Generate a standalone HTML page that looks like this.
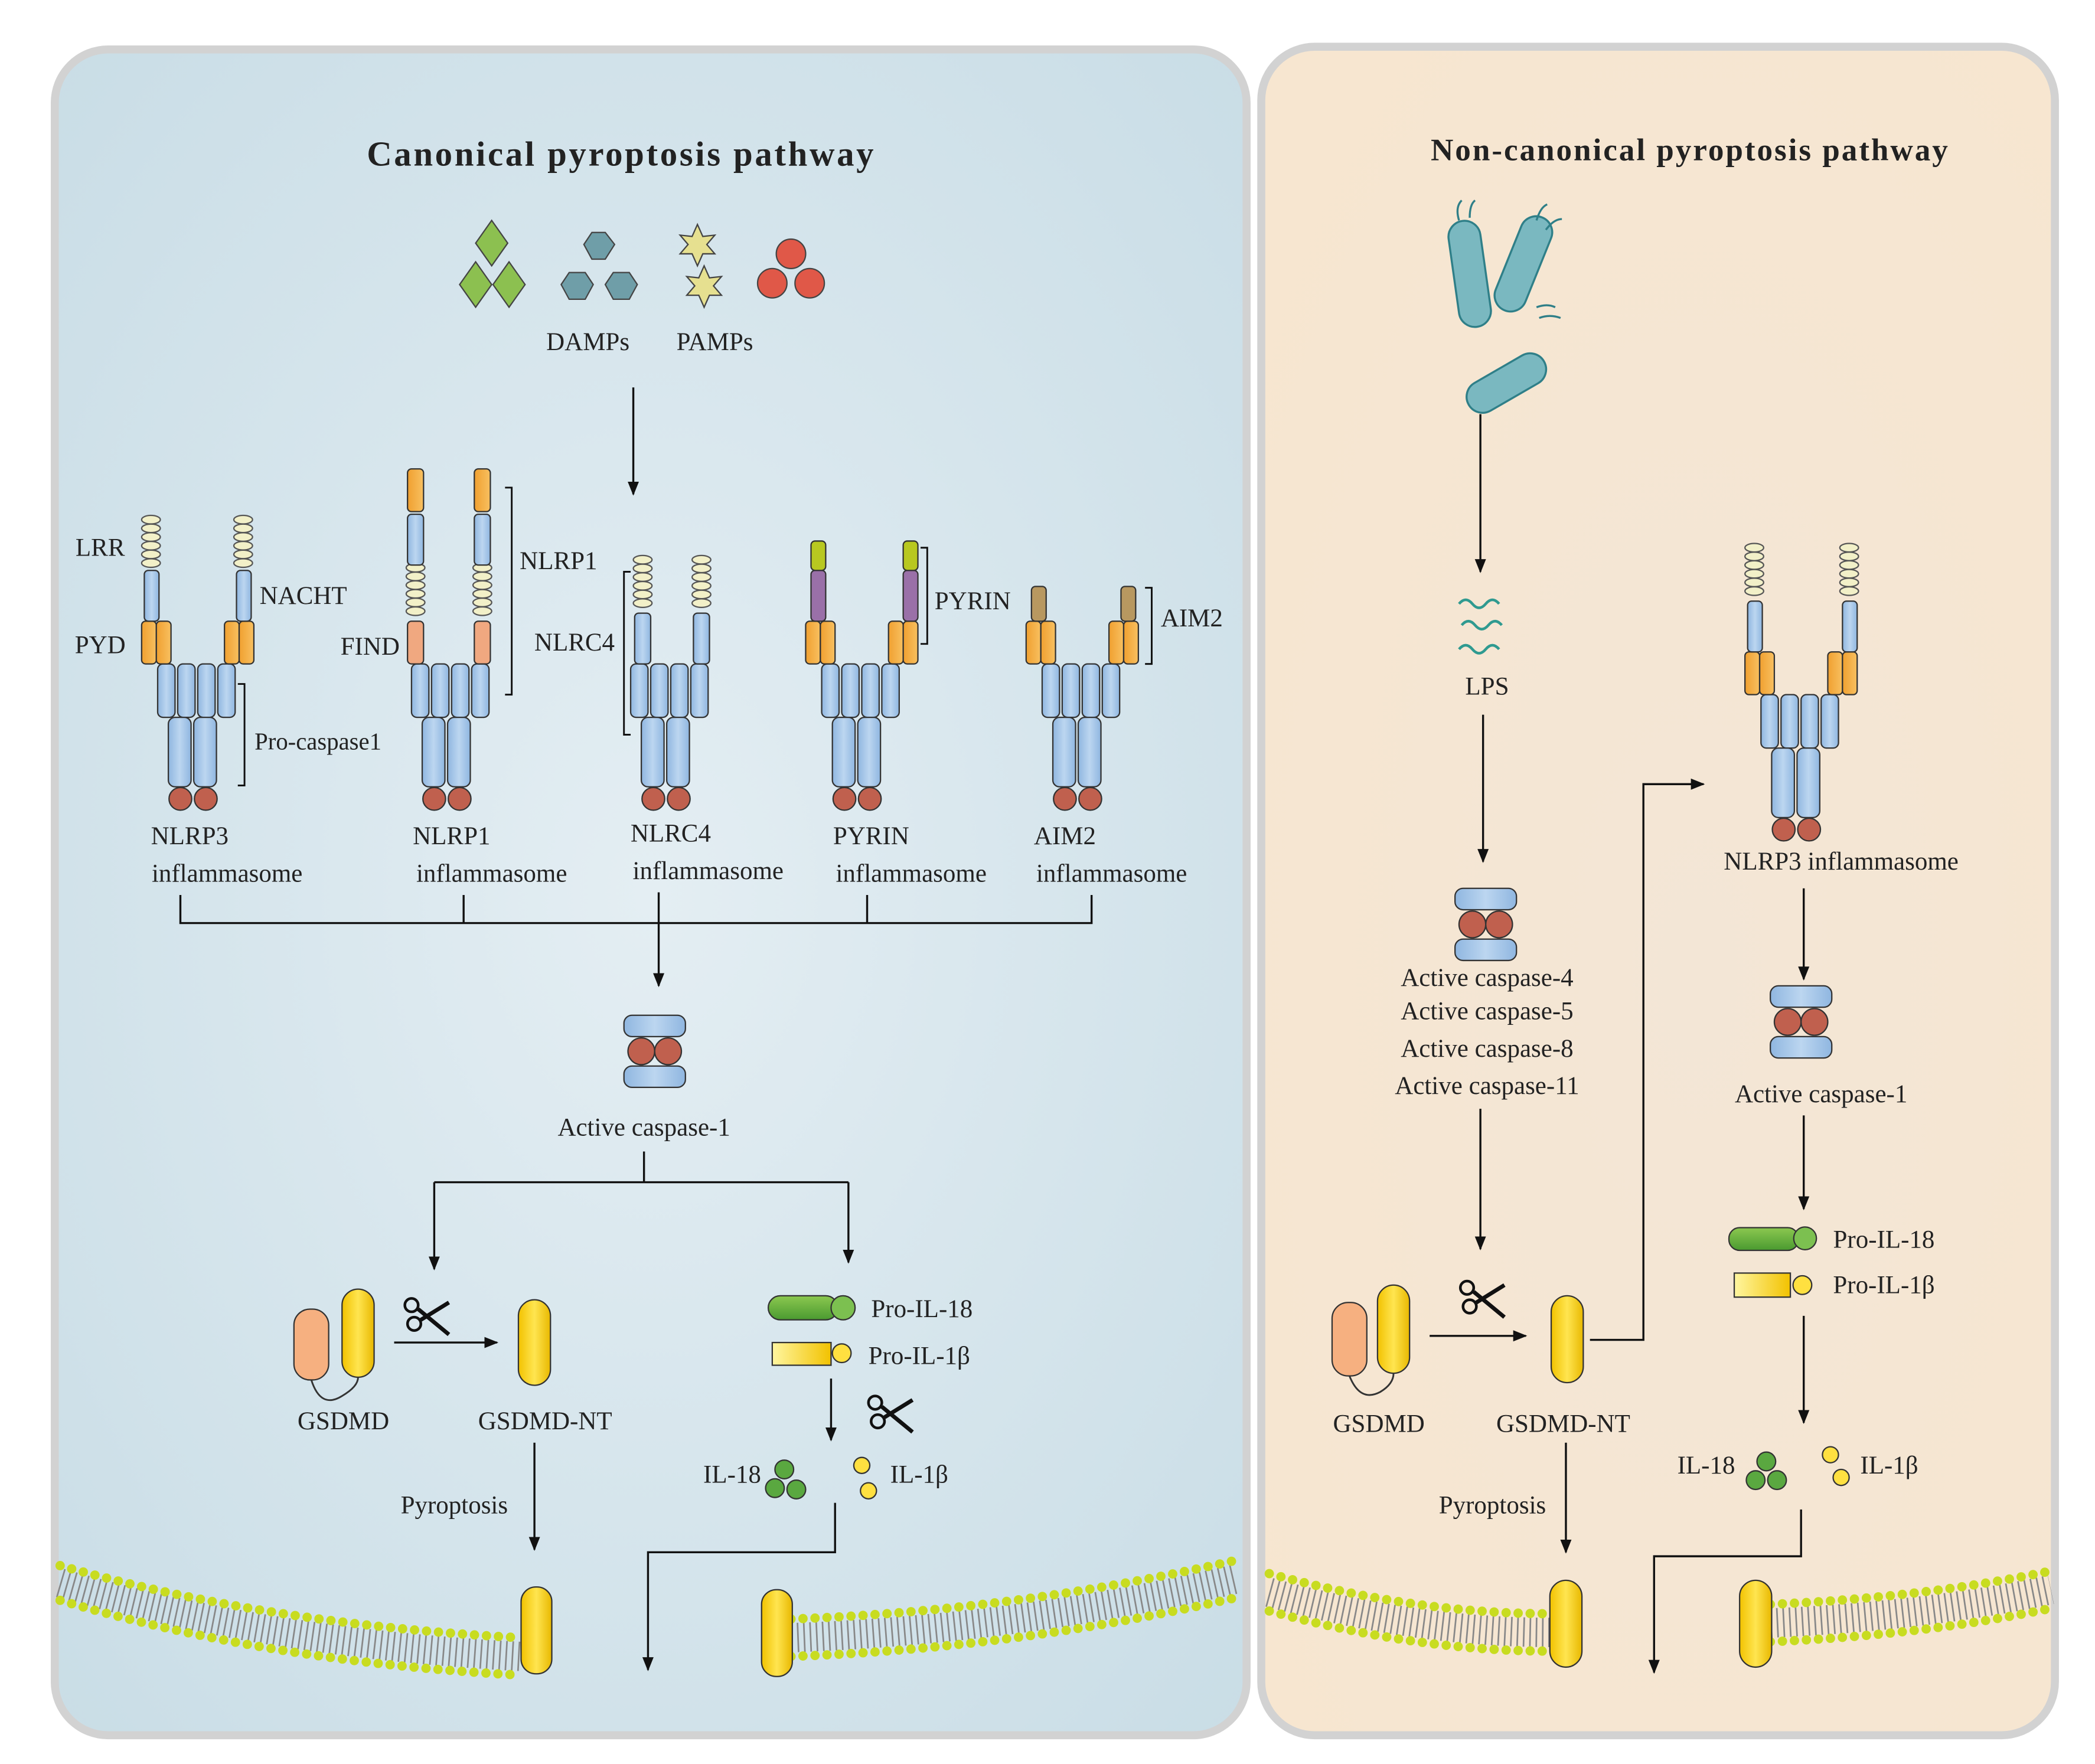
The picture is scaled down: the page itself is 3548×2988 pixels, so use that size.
<!DOCTYPE html>
<html><head><meta charset="utf-8"><style>
html,body{margin:0;padding:0;background:#fff}
svg{display:block}
text{font-family:"Liberation Serif",serif;fill:#222}
</style></head><body>
<svg width="3548" height="2988" viewBox="0 0 1568 1320.5" xmlns="http://www.w3.org/2000/svg">
<defs>
<radialGradient id="bgL" cx="0.5" cy="0.5" r="0.7"><stop offset="0" stop-color="#e4eef3"/><stop offset="1" stop-color="#c9dde6"/></radialGradient>
<radialGradient id="bgR" cx="0.55" cy="0.55" r="0.7"><stop offset="0" stop-color="#f3e6d6"/><stop offset="1" stop-color="#f7e6d0"/></radialGradient>
<linearGradient id="yel" x1="0" x2="1"><stop offset="0" stop-color="#fff6a0"/><stop offset="1" stop-color="#f2c200"/></linearGradient>
<linearGradient id="yelv" x1="0" x2="1"><stop offset="0" stop-color="#f2c200"/><stop offset="0.5" stop-color="#ffe550"/><stop offset="1" stop-color="#e8b800"/></linearGradient>
<linearGradient id="blu" x1="0" x2="1"><stop offset="0" stop-color="#8fb6e0"/><stop offset="0.5" stop-color="#bcd6f0"/><stop offset="1" stop-color="#8fb6e0"/></linearGradient>
<linearGradient id="org" x1="0" x2="1"><stop offset="0" stop-color="#f0a030"/><stop offset="1" stop-color="#f8c060"/></linearGradient>
<linearGradient id="grn" x1="0" y1="0" x2="0" y2="1"><stop offset="0" stop-color="#8cc850"/><stop offset="1" stop-color="#4a9a30"/></linearGradient>
<marker id="ar" viewBox="0 0 10 10" refX="9" refY="5" markerWidth="7" markerHeight="7" orient="auto"><path d="M0,1 L10,5 L0,9 Z" fill="#111"/></marker>
<g id="core">
 <rect x="-30" y="0" width="13" height="40" rx="4" fill="url(#blu)" stroke="#333" stroke-width="1"/>
 <rect x="-15" y="0" width="13" height="40" rx="4" fill="url(#blu)" stroke="#333" stroke-width="1"/>
 <rect x="0" y="0" width="13" height="40" rx="4" fill="url(#blu)" stroke="#333" stroke-width="1"/>
 <rect x="15" y="0" width="13" height="40" rx="4" fill="url(#blu)" stroke="#333" stroke-width="1"/>
 <rect x="-22" y="40" width="17" height="52" rx="5" fill="url(#blu)" stroke="#333" stroke-width="1"/>
 <rect x="-3" y="40" width="17" height="52" rx="5" fill="url(#blu)" stroke="#333" stroke-width="1"/>
 <circle cx="-13" cy="101" r="8.5" fill="#c0604e" stroke="#333" stroke-width="1"/>
 <circle cx="6" cy="101" r="8.5" fill="#c0604e" stroke="#333" stroke-width="1"/>
</g>
<g id="pyd">
 <rect x="-42" y="-32" width="11" height="32" rx="3" fill="url(#org)" stroke="#333"/>
 <rect x="-31" y="-32" width="11" height="32" rx="3" fill="url(#org)" stroke="#333"/>
 <rect x="20" y="-32" width="11" height="32" rx="3" fill="url(#org)" stroke="#333"/>
 <rect x="31" y="-32" width="11" height="32" rx="3" fill="url(#org)" stroke="#333"/>
</g>
<g id="lrr">
 <ellipse cx="0" cy="0" rx="7" ry="3.2" fill="#f2f0c8" stroke="#555" stroke-width="1"/>
 <ellipse cx="0" cy="6.5" rx="7" ry="3.2" fill="#f2f0c8" stroke="#555" stroke-width="1"/>
 <ellipse cx="0" cy="13" rx="7" ry="3.2" fill="#f2f0c8" stroke="#555" stroke-width="1"/>
 <ellipse cx="0" cy="19.5" rx="7" ry="3.2" fill="#f2f0c8" stroke="#555" stroke-width="1"/>
 <ellipse cx="0" cy="26" rx="7" ry="3.2" fill="#f2f0c8" stroke="#555" stroke-width="1"/>
 <ellipse cx="0" cy="32.5" rx="7" ry="3.2" fill="#f2f0c8" stroke="#555" stroke-width="1"/>
</g>
<g id="casp">
 <rect x="-23" y="0" width="46" height="16" rx="6" fill="url(#blu)" stroke="#333"/>
 <rect x="-23" y="38" width="46" height="16" rx="6" fill="url(#blu)" stroke="#333"/>
 <circle cx="-10" cy="27" r="10" fill="#c0604e" stroke="#333"/>
 <circle cx="10" cy="27" r="10" fill="#c0604e" stroke="#333"/>
</g>
<g id="sc">
 <circle cx="-10" cy="-8" r="5" fill="none" stroke="#111" stroke-width="2"/>
 <circle cx="-8" cy="6" r="5" fill="none" stroke="#111" stroke-width="2"/>
 <path d="M-5,-5 L18,14 M-3,3 L18,-10" stroke="#111" stroke-width="3"/>
</g>
</defs>

<rect x="41" y="37" width="892" height="1262" rx="40" fill="url(#bgL)" stroke="#d2d2d2" stroke-width="6"/>
<rect x="944" y="35" width="594" height="1264" rx="40" fill="url(#bgR)" stroke="#d2d2d2" stroke-width="6"/>

<text x="465" y="124" font-size="26" font-weight="bold" text-anchor="middle" letter-spacing="1.6">Canonical pyroptosis pathway</text>
<text x="1265" y="120" font-size="23.5" font-weight="bold" text-anchor="middle" letter-spacing="1.3">Non-canonical pyroptosis pathway</text>

<g stroke="#444" stroke-width="1">
<path d="M368,165 L380,182 L368,199 L356,182Z" fill="#8cc050"/>
<path d="M356,196 L368,213 L356,230 L344,213Z" fill="#8cc050"/>
<path d="M381,196 L393,213 L381,230 L369,213Z" fill="#8cc050"/>
<path d="M443,174 L453,174 L460,183 L453,194 L443,194 L437,183Z" fill="#6f9ea8"/>
<path d="M426,204 L438,204 L444,213 L438,224 L426,224 L420,213Z" fill="#6f9ea8"/>
<path d="M459,204 L471,204 L477,213 L471,224 L459,224 L453,213Z" fill="#6f9ea8"/>
<path d="M522,168 l4,9 l9,-1 l-6,7 l6,7 l-9,0 l-4,9 l-4,-9 l-9,0 l6,-7 l-6,-7 l9,1Z" fill="#e6e090"/>
<path d="M527,199 l4,9 l9,-1 l-6,7 l6,7 l-9,0 l-4,9 l-4,-9 l-9,0 l6,-7 l-6,-7 l9,1Z" fill="#e6e090"/>
<circle cx="592" cy="190" r="11" fill="#e05848"/>
<circle cx="578" cy="212" r="11" fill="#e05848"/>
<circle cx="606" cy="212" r="11" fill="#e05848"/>
</g>
<text x="440" y="262" font-size="19" text-anchor="middle">DAMPs</text>
<text x="535" y="262" font-size="19" text-anchor="middle">PAMPs</text>
<line x1="474" y1="290" x2="474" y2="370" stroke="#111" stroke-width="1.5" marker-end="url(#ar)"/>

<g transform="translate(148,497)">
 <use href="#core"/><use href="#pyd"/>
 <rect x="-40" y="-70" width="11" height="38" rx="3" fill="url(#blu)" stroke="#333"/>
 <rect x="29" y="-70" width="11" height="38" rx="3" fill="url(#blu)" stroke="#333"/>
 <use href="#lrr" transform="translate(-35,-108)"/><use href="#lrr" transform="translate(34,-108)"/>
</g>
<text x="75" y="416" font-size="19" text-anchor="middle">LRR</text>
<text x="227" y="452" font-size="19" text-anchor="middle">NACHT</text>
<text x="75" y="489" font-size="19" text-anchor="middle">PYD</text>
<path d="M178,512 H183 V588 H178" fill="none" stroke="#111" stroke-width="1.3"/>
<text x="238" y="561" font-size="18" text-anchor="middle">Pro-caspase1</text>
<text x="142" y="632" font-size="19" text-anchor="middle">NLRP3</text>
<text x="170" y="660" font-size="19" text-anchor="middle">inflammasome</text>

<g transform="translate(338,497)">
 <use href="#core"/>
 <rect x="-33" y="-32" width="12" height="32" rx="3" fill="#f0a880" stroke="#333"/>
 <rect x="17" y="-32" width="12" height="32" rx="3" fill="#f0a880" stroke="#333"/>
 <use href="#lrr" transform="translate(-27,-72)"/><use href="#lrr" transform="translate(23,-72)"/>
 <rect x="-33" y="-112" width="12" height="38" rx="3" fill="url(#blu)" stroke="#333"/>
 <rect x="17" y="-112" width="12" height="38" rx="3" fill="url(#blu)" stroke="#333"/>
 <rect x="-33" y="-146" width="12" height="32" rx="3" fill="url(#org)" stroke="#333"/>
 <rect x="17" y="-146" width="12" height="32" rx="3" fill="url(#org)" stroke="#333"/>
</g>
<path d="M378,365 H383 V520 H378" fill="none" stroke="#111" stroke-width="1.3"/>
<text x="418" y="426" font-size="19" text-anchor="middle">NLRP1</text>
<text x="277" y="490" font-size="19" text-anchor="middle">FIND</text>
<text x="338" y="632" font-size="19" text-anchor="middle">NLRP1</text>
<text x="368" y="660" font-size="19" text-anchor="middle">inflammasome</text>

<g transform="translate(502,497)">
 <use href="#core"/>
 <rect x="-27" y="-38" width="12" height="38" rx="3" fill="url(#blu)" stroke="#333"/>
 <rect x="17" y="-38" width="12" height="38" rx="3" fill="url(#blu)" stroke="#333"/>
 <use href="#lrr" transform="translate(-21,-78)"/><use href="#lrr" transform="translate(23,-78)"/>
</g>
<path d="M472,428 H467 V550 H472" fill="none" stroke="#111" stroke-width="1.3"/>
<text x="430" y="487" font-size="19" text-anchor="middle">NLRC4</text>
<text x="502" y="630" font-size="19" text-anchor="middle">NLRC4</text>
<text x="530" y="658" font-size="19" text-anchor="middle">inflammasome</text>

<g transform="translate(645,497)">
 <use href="#core"/><use href="#pyd"/>
 <rect x="-38" y="-70" width="11" height="38" rx="3" fill="#9a70a8" stroke="#333"/>
 <rect x="31" y="-70" width="11" height="38" rx="3" fill="#9a70a8" stroke="#333"/>
 <rect x="-38" y="-92" width="11" height="22" rx="3" fill="#b8c820" stroke="#333"/>
 <rect x="31" y="-92" width="11" height="22" rx="3" fill="#b8c820" stroke="#333"/>
</g>
<path d="M689,410 H694 V482 H689" fill="none" stroke="#111" stroke-width="1.3"/>
<text x="728" y="456" font-size="19" text-anchor="middle">PYRIN</text>
<text x="652" y="632" font-size="19" text-anchor="middle">PYRIN</text>
<text x="682" y="660" font-size="19" text-anchor="middle">inflammasome</text>

<g transform="translate(810,497)">
 <use href="#core"/><use href="#pyd"/>
 <rect x="-38" y="-58" width="11" height="26" rx="3" fill="#b89860" stroke="#333"/>
 <rect x="29" y="-58" width="11" height="26" rx="3" fill="#b89860" stroke="#333"/>
</g>
<path d="M857,440 H862 V497 H857" fill="none" stroke="#111" stroke-width="1.3"/>
<text x="892" y="469" font-size="19" text-anchor="middle">AIM2</text>
<text x="797" y="632" font-size="19" text-anchor="middle">AIM2</text>
<text x="832" y="660" font-size="19" text-anchor="middle">inflammasome</text>

<g stroke="#111" stroke-width="1.5" fill="none">
<path d="M135,670 V691 H817 V670 M347,670 V691 M649,670 V691"/>
<line x1="493" y1="668" x2="493" y2="738" marker-end="url(#ar)"/>
<path d="M482,862 V885"/>
<path d="M325,885 H635"/>
<line x1="325" y1="885" x2="325" y2="950" marker-end="url(#ar)"/>
<line x1="635" y1="885" x2="635" y2="945" marker-end="url(#ar)"/>
</g>
<use href="#casp" transform="translate(490,760)"/>
<text x="482" y="850" font-size="19" text-anchor="middle">Active caspase-1</text>

<rect x="220" y="980" width="26" height="53" rx="12" fill="#f6b080" stroke="#333"/>
<rect x="256" y="965" width="24" height="66" rx="12" fill="url(#yelv)" stroke="#333"/>
<path d="M233,1033 Q240,1055 256,1045 Q268,1038 268,1031" fill="none" stroke="#333" stroke-width="1.3"/>
<text x="257" y="1070" font-size="19" text-anchor="middle">GSDMD</text>
<line x1="295" y1="1005" x2="372" y2="1005" stroke="#111" stroke-width="1.5" marker-end="url(#ar)"/>
<use href="#sc" transform="translate(318,985)"/>
<rect x="388" y="973" width="24" height="64" rx="12" fill="url(#yelv)" stroke="#333"/>
<text x="408" y="1070" font-size="19" text-anchor="middle">GSDMD-NT</text>
<line x1="400" y1="1080" x2="400" y2="1160" stroke="#111" stroke-width="1.5" marker-end="url(#ar)"/>
<text x="340" y="1133" font-size="19" text-anchor="middle">Pyroptosis</text>

<rect x="575" y="970" width="52" height="18" rx="9" fill="url(#grn)" stroke="#333"/>
<circle cx="631" cy="979" r="9" fill="#7cc050" stroke="#333"/>
<text x="690" y="986" font-size="19" text-anchor="middle">Pro-IL-18</text>
<rect x="578" y="1005" width="44" height="17" fill="url(#yel)" stroke="#333"/>
<circle cx="630" cy="1013" r="7" fill="#ffe040" stroke="#333"/>
<text x="688" y="1021" font-size="19" text-anchor="middle">Pro-IL-1β</text>
<line x1="622" y1="1032" x2="622" y2="1078" stroke="#111" stroke-width="1.5" marker-end="url(#ar)"/>
<use href="#sc" transform="translate(665,1058)"/>
<text x="548" y="1110" font-size="19" text-anchor="middle">IL-18</text>
<g stroke="#333"><circle cx="587" cy="1100" r="7" fill="#5aa840"/><circle cx="580" cy="1114" r="7" fill="#5aa840"/><circle cx="596" cy="1115" r="7" fill="#5aa840"/></g>
<g stroke="#333"><circle cx="645" cy="1097" r="6" fill="#ffe040"/><circle cx="650" cy="1116" r="6" fill="#ffe040"/></g>
<text x="688" y="1110" font-size="19" text-anchor="middle">IL-1β</text>
<path d="M625,1125 V1162 H485 V1250" fill="none" stroke="#111" stroke-width="1.5" marker-end="url(#ar)"/>

<g fill="none">
 <path d="M45,1185 Q200,1230 390,1240" stroke="#888" stroke-width="22" stroke-dasharray="1.2 3.5"/>
 <path d="M45,1172 Q200,1216 390,1226" stroke="#c8dc20" stroke-width="7" stroke-dasharray="0 9" stroke-linecap="round"/>
 <path d="M45,1198 Q200,1244 390,1254" stroke="#c8dc20" stroke-width="7" stroke-dasharray="0 9" stroke-linecap="round"/>
 <path d="M592,1226 Q760,1220 925,1182" stroke="#888" stroke-width="22" stroke-dasharray="1.2 3.5"/>
 <path d="M592,1212 Q760,1206 925,1168" stroke="#c8dc20" stroke-width="7" stroke-dasharray="0 9" stroke-linecap="round"/>
 <path d="M592,1240 Q760,1234 925,1196" stroke="#c8dc20" stroke-width="7" stroke-dasharray="0 9" stroke-linecap="round"/>
 <path d="M950,1192 Q1060,1222 1160,1222" stroke="#888" stroke-width="22" stroke-dasharray="1.2 3.5"/>
 <path d="M950,1178 Q1060,1208 1160,1208" stroke="#c8dc20" stroke-width="7" stroke-dasharray="0 9" stroke-linecap="round"/>
 <path d="M950,1206 Q1060,1236 1160,1236" stroke="#c8dc20" stroke-width="7" stroke-dasharray="0 9" stroke-linecap="round"/>
 <path d="M1325,1215 Q1440,1210 1535,1190" stroke="#888" stroke-width="22" stroke-dasharray="1.2 3.5"/>
 <path d="M1325,1201 Q1440,1196 1535,1176" stroke="#c8dc20" stroke-width="7" stroke-dasharray="0 9" stroke-linecap="round"/>
 <path d="M1325,1229 Q1440,1224 1535,1204" stroke="#c8dc20" stroke-width="7" stroke-dasharray="0 9" stroke-linecap="round"/>
</g>
<rect x="390" y="1188" width="23" height="65" rx="11" fill="url(#yelv)" stroke="#333"/>
<rect x="570" y="1190" width="23" height="65" rx="11" fill="url(#yelv)" stroke="#333"/>
<rect x="1160" y="1183" width="24" height="65" rx="12" fill="url(#yelv)" stroke="#333"/>
<rect x="1302" y="1183" width="24" height="65" rx="12" fill="url(#yelv)" stroke="#333"/>

<g fill="#7ab8c0" stroke="#2f7f88" stroke-width="1.5">
 <rect x="1088" y="165" width="24" height="80" rx="12" transform="rotate(-8 1100 205)"/>
 <rect x="1128" y="160" width="24" height="75" rx="12" transform="rotate(22 1140 198)"/>
 <rect x="1095" y="275" width="65" height="24" rx="12" transform="rotate(-30 1127 287)"/>
</g>
<g fill="none" stroke="#2f7f88" stroke-width="1.5">
 <path d="M1092,165 q-3,-10 2,-15 M1100,163 q0,-10 4,-13 M1150,165 q3,-10 8,-12 M1157,172 q6,-8 12,-8 M1150,230 q8,-3 14,0 M1152,238 q8,-3 16,0"/>
</g>
<line x1="1108" y1="310" x2="1108" y2="428" stroke="#111" stroke-width="1.5" marker-end="url(#ar)"/>
<g fill="none" stroke="#2f9a90" stroke-width="2">
 <path d="M1092,452 q5,-6 10,0 t10,0 t10,0"/>
 <path d="M1094,468 q5,-6 10,0 t10,0 t10,0"/>
 <path d="M1092,486 q5,-6 10,0 t10,0 t10,0"/>
</g>
<text x="1113" y="520" font-size="19" text-anchor="middle">LPS</text>
<line x1="1110" y1="535" x2="1110" y2="645" stroke="#111" stroke-width="1.5" marker-end="url(#ar)"/>
<use href="#casp" transform="translate(1112,665)"/>
<text x="1113" y="738" font-size="19" text-anchor="middle">Active caspase-4</text>
<text x="1113" y="763" font-size="19" text-anchor="middle">Active caspase-5</text>
<text x="1113" y="791" font-size="19" text-anchor="middle">Active caspase-8</text>
<text x="1113" y="819" font-size="19" text-anchor="middle">Active caspase-11</text>
<line x1="1108" y1="830" x2="1108" y2="935" stroke="#111" stroke-width="1.5" marker-end="url(#ar)"/>

<rect x="997" y="975" width="26" height="55" rx="12" fill="#f6b080" stroke="#333"/>
<rect x="1031" y="962" width="24" height="66" rx="12" fill="url(#yelv)" stroke="#333"/>
<path d="M1010,1030 Q1018,1050 1033,1042 Q1043,1036 1043,1028" fill="none" stroke="#333" stroke-width="1.3"/>
<text x="1032" y="1072" font-size="19" text-anchor="middle">GSDMD</text>
<line x1="1070" y1="1000" x2="1142" y2="1000" stroke="#111" stroke-width="1.5" marker-end="url(#ar)"/>
<use href="#sc" transform="translate(1108,972)"/>
<rect x="1161" y="970" width="24" height="65" rx="12" fill="url(#yelv)" stroke="#333"/>
<text x="1170" y="1072" font-size="19" text-anchor="middle">GSDMD-NT</text>
<path d="M1190,1003 H1230 V587 H1275" fill="none" stroke="#111" stroke-width="1.5" marker-end="url(#ar)"/>
<line x1="1172" y1="1080" x2="1172" y2="1162" stroke="#111" stroke-width="1.5" marker-end="url(#ar)"/>
<text x="1117" y="1133" font-size="19" text-anchor="middle">Pyroptosis</text>

<g transform="translate(1348,520)">
 <use href="#core"/><use href="#pyd"/>
 <rect x="-40" y="-70" width="11" height="38" rx="3" fill="url(#blu)" stroke="#333"/>
 <rect x="31" y="-70" width="11" height="38" rx="3" fill="url(#blu)" stroke="#333"/>
 <use href="#lrr" transform="translate(-35,-110)"/><use href="#lrr" transform="translate(36,-110)"/>
</g>
<text x="1378" y="651" font-size="19" text-anchor="middle">NLRP3 inflammasome</text>
<line x1="1350" y1="665" x2="1350" y2="733" stroke="#111" stroke-width="1.5" marker-end="url(#ar)"/>
<use href="#casp" transform="translate(1348,738)"/>
<text x="1363" y="825" font-size="19" text-anchor="middle">Active caspase-1</text>
<line x1="1350" y1="835" x2="1350" y2="905" stroke="#111" stroke-width="1.5" marker-end="url(#ar)"/>
<rect x="1294" y="919" width="52" height="17" rx="8" fill="url(#grn)" stroke="#333"/>
<circle cx="1351" cy="927" r="8.5" fill="#7cc050" stroke="#333"/>
<text x="1410" y="934" font-size="19" text-anchor="middle">Pro-IL-18</text>
<rect x="1298" y="953" width="42" height="18" fill="url(#yel)" stroke="#333"/>
<circle cx="1349" cy="962" r="7" fill="#ffe040" stroke="#333"/>
<text x="1410" y="968" font-size="19" text-anchor="middle">Pro-IL-1β</text>
<line x1="1350" y1="985" x2="1350" y2="1065" stroke="#111" stroke-width="1.5" marker-end="url(#ar)"/>
<text x="1277" y="1103" font-size="19" text-anchor="middle">IL-18</text>
<g stroke="#333"><circle cx="1322" cy="1094" r="7" fill="#5aa840"/><circle cx="1314" cy="1108" r="7" fill="#5aa840"/><circle cx="1330" cy="1108" r="7" fill="#5aa840"/></g>
<g stroke="#333"><circle cx="1370" cy="1089" r="6" fill="#ffe040"/><circle cx="1378" cy="1106" r="6" fill="#ffe040"/></g>
<text x="1414" y="1103" font-size="19" text-anchor="middle">IL-1β</text>
<path d="M1348,1130 V1165 H1238 V1252" fill="none" stroke="#111" stroke-width="1.5" marker-end="url(#ar)"/>
</svg>
</body></html>
